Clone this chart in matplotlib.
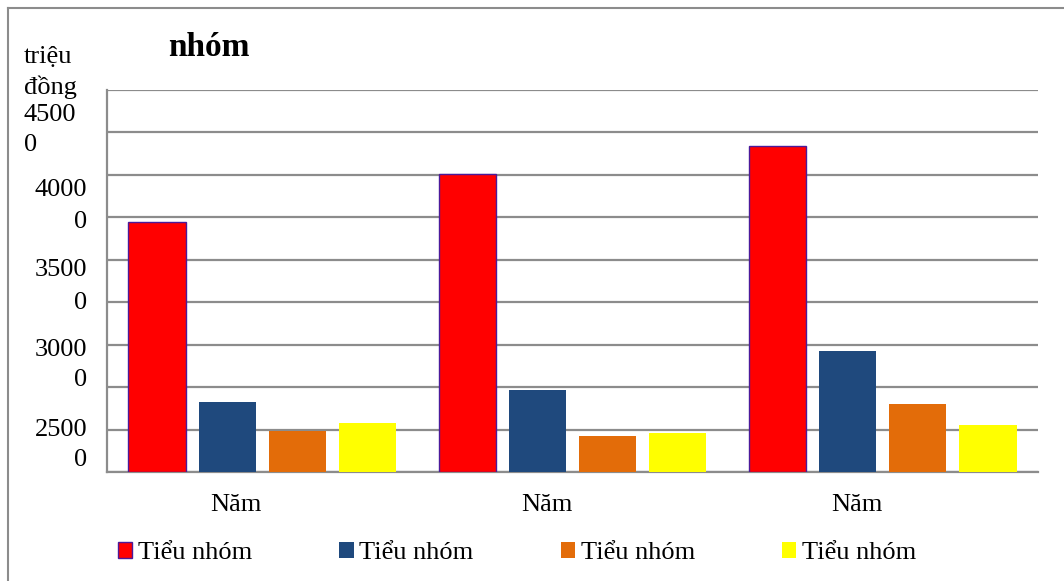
import numpy as np
import matplotlib
matplotlib.use('Agg')
import matplotlib.pyplot as plt
from matplotlib.patches import Rectangle
from matplotlib.lines import Line2D
from matplotlib.transforms import ScaledTranslation

plt.rcParams['font.family'] = ['Liberation Serif', 'DejaVu Serif']

# data (trieu dong)
categories = ['Năm', 'Năm', 'Năm']
series_names = ['Tiểu nhóm', 'Tiểu nhóm', 'Tiểu nhóm', 'Tiểu nhóm']
red_vals = [29450, 35100, 38400]
blue_vals = [8210, 9660, 14290]
orange_vals = [4870, 4240, 8010]
yellow_vals = [5770, 4600, 5540]
colors = ['#ff0000', '#1f497d', '#e36c09', '#ffff00']
ytick_vals = [0, 10000, 20000, 30000, 40000]
ytick_texts = ['2500\n0', '3000\n0', '3500\n0', '4000\n0', '4500\n0']

FS = 19
fig = plt.figure(figsize=(10.64, 5.81), dpi=100)
W, H = 1064, 581
ax = fig.add_axes([107 / W, 1 - 472 / H, (1038 - 107) / W, (472 - 90) / H])

x = np.arange(len(categories))
width = 0.184
step = 0.226
all_vals = [red_vals, blue_vals, orange_vals, yellow_vals]
for k, vals in enumerate(all_vals):
    off = (k - 1.5) * step
    if k == 0:
        ax.bar(x + off, vals, width, color=colors[k], edgecolor='#4b1a9a', linewidth=1.0, zorder=3)
    else:
        ax.bar(x + off, vals, width, color=colors[k], linewidth=0, zorder=3)

ax.set_xlim(-0.5, 2.5)
ax.set_ylim(0, 45000)
ax.set_yticks(np.arange(0, 45001, 5000))
ax.yaxis.grid(True, color='#8c8c8c', linewidth=1.6)
ax.set_axisbelow(True)
ax.tick_params(axis='y', length=0, labelleft=False)
ax.tick_params(axis='x', length=0, labelsize=FS, pad=16)
ax.set_xticks(x)
ax.set_xticklabels(categories)
for lab in ax.get_xticklabels():
    lab.set_transform(lab.get_transform() + ScaledTranslation(-0.26, 0, fig.dpi_scale_trans))

for s in ['top', 'right']:
    ax.spines[s].set_visible(False)
for s in ['left', 'bottom']:
    ax.spines[s].set_color('#8c8c8c')
    ax.spines[s].set_linewidth(1.6)

# misplaced, wrapped value labels as in the original
label_pos = [(460, 430), (380, 350), (303, 270), (222, 190), (145, 115)]
for txt, (y0, y1) in zip(ytick_texts, label_pos):
    top, bot = txt.split('\n')
    ha = 'left' if txt.startswith('4500') else 'right'
    xx = 24 if ha == 'left' else 87
    fig.text(xx / W, 1 - y1 / H, top, fontsize=FS, ha=ha, va='center')
    fig.text(xx / W, 1 - y0 / H, bot, fontsize=FS, ha=ha, va='center')

fig.text(24 / W, 1 - 57 / H, 'triệu', fontsize=FS, ha='left', va='center')
fig.text(24 / W, 1 - 87 / H, 'đồng', fontsize=FS, ha='left', va='center')
fig.text(168 / W, 1 - 47 / H, 'nhóm', fontsize=24, fontweight='bold', ha='left', va='center')

# outer chart frame (top and left only visible)
fig.add_artist(Line2D([8 / W, 8 / W], [0, 1 - 8 / H], color='#8c8c8c', linewidth=1.5))
fig.add_artist(Line2D([8 / W, 1], [1 - 8 / H, 1 - 8 / H], color='#8c8c8c', linewidth=1.5))

handles = [Rectangle((0, 0), 1, 1, facecolor=colors[0], edgecolor='#4b1a9a', linewidth=1.0)]
handles += [Rectangle((0, 0), 1, 1, facecolor=c, linewidth=0) for c in colors[1:]]
fig.legend(handles, series_names, ncol=4, loc='center left',
           bbox_to_anchor=(94 / W, 1 - 553 / H), frameon=False, fontsize=FS,
           handlelength=0.55, handleheight=0.55, handletextpad=0.22, columnspacing=3.29)

fig.savefig('out.png', dpi=100)
